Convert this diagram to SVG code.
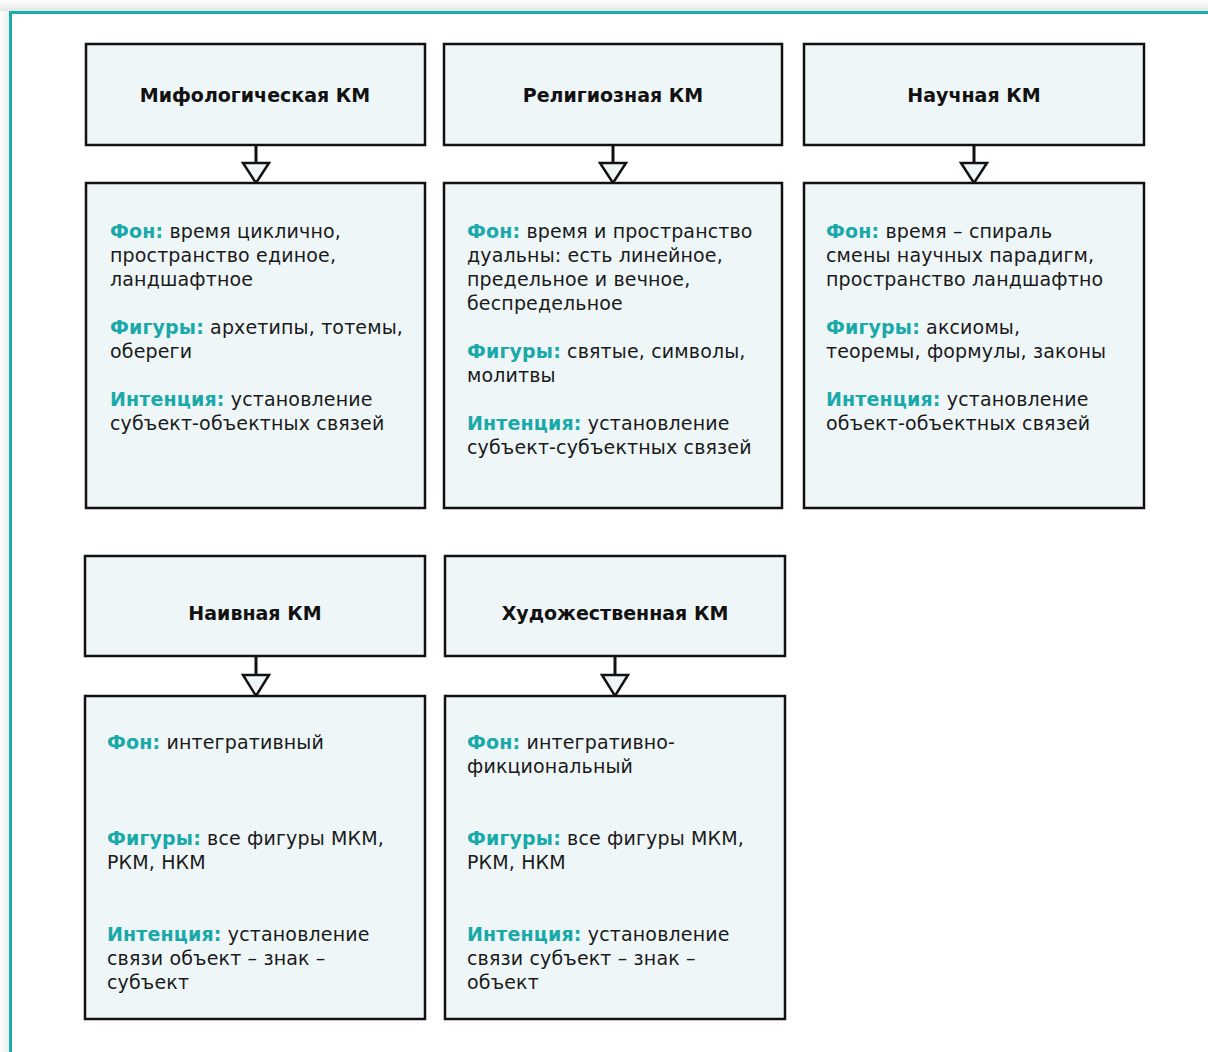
<svg xmlns="http://www.w3.org/2000/svg" width="1208" height="1052" viewBox="0 0 1208 1052">
<style>
.box{fill:#eef6f8;stroke:#111;stroke-width:2.5}
.h{font-family:"DejaVu Sans",sans-serif;font-weight:bold;font-size:19px;fill:#111;text-anchor:middle}
.t{font-family:"DejaVu Sans",sans-serif;font-size:19px;letter-spacing:0.15px;fill:#1a1a1a}
.k{font-weight:bold;fill:#1aa9a9}
.c{stroke:#111;stroke-width:3;fill:none}
.ah{fill:#eef6f8;stroke:#111;stroke-width:2.5;stroke-linejoin:miter}
</style>
<defs>
<linearGradient id="gt" x1="0" y1="0" x2="0" y2="1"><stop offset="0" stop-color="#ffffff"/><stop offset="1" stop-color="#e6e6e6"/></linearGradient>
<linearGradient id="gl" x1="0" y1="0" x2="1" y2="0"><stop offset="0" stop-color="#ffffff"/><stop offset="1" stop-color="#ececec"/></linearGradient>
</defs>
<rect width="1208" height="1052" fill="#ffffff"/>
<rect x="0" y="0" width="1208" height="11" fill="url(#gt)"/>
<rect x="0" y="11" width="9" height="1041" fill="url(#gl)"/>
<path d="M10.5 1052 V12.5 H1208" fill="none" stroke="#17aeaa" stroke-width="3"/>

<g id="connectors">
<path class="c" d="M256 145 V166"/>
<polygon class="ah" points="243,163 269,163 256,183"/>
<path class="c" d="M613 145 V166"/>
<polygon class="ah" points="600,163 626,163 613,183"/>
<path class="c" d="M974 145 V166"/>
<polygon class="ah" points="961,163 987,163 974,183"/>
<path class="c" d="M256 656 V678"/>
<polygon class="ah" points="243,675 269,675 256,696"/>
<path class="c" d="M615 656 V678"/>
<polygon class="ah" points="602,675 628,675 615,696"/>
</g>

<g id="n1h"><rect class="box" x="86" y="44" width="339" height="101"/><text class="h" x="255" y="102">Мифологическая КМ</text></g>
<g id="n2h"><rect class="box" x="444" y="44" width="338" height="101"/><text class="h" x="613" y="102">Религиозная КМ</text></g>
<g id="n3h"><rect class="box" x="804" y="44" width="340" height="101"/><text class="h" x="974" y="102">Научная КМ</text></g>
<g id="n4h"><rect class="box" x="85" y="556" width="340" height="100"/><text class="h" x="255" y="620">Наивная КМ</text></g>
<g id="n5h"><rect class="box" x="445" y="556" width="340" height="100"/><text class="h" x="615" y="620">Художественная КМ</text></g>

<g id="n1">
<rect class="box" x="86" y="183" width="339" height="325"/>
<text class="t" x="110" y="238"><tspan class="k">Фон:</tspan> время циклично,</text>
<text class="t" x="110" y="262">пространство единое,</text>
<text class="t" x="110" y="286">ландшафтное</text>
<text class="t" x="110" y="334"><tspan class="k">Фигуры:</tspan> архетипы, тотемы,</text>
<text class="t" x="110" y="358">обереги</text>
<text class="t" x="110" y="406"><tspan class="k">Интенция:</tspan> установление</text>
<text class="t" x="110" y="430">субъект-объектных связей</text>
</g>
<g id="n2">
<rect class="box" x="444" y="183" width="338" height="325"/>
<text class="t" x="467" y="238"><tspan class="k">Фон:</tspan> время и пространство</text>
<text class="t" x="467" y="262">дуальны: есть линейное,</text>
<text class="t" x="467" y="286">предельное и вечное,</text>
<text class="t" x="467" y="310">беспредельное</text>
<text class="t" x="467" y="358"><tspan class="k">Фигуры:</tspan> святые, символы,</text>
<text class="t" x="467" y="382">молитвы</text>
<text class="t" x="467" y="430"><tspan class="k">Интенция:</tspan> установление</text>
<text class="t" x="467" y="454">субъект-субъектных связей</text>
</g>
<g id="n3">
<rect class="box" x="804" y="183" width="340" height="325"/>
<text class="t" x="826" y="238"><tspan class="k">Фон:</tspan> время – спираль</text>
<text class="t" x="826" y="262">смены научных парадигм,</text>
<text class="t" x="826" y="286">пространство ландшафтно</text>
<text class="t" x="826" y="334"><tspan class="k">Фигуры:</tspan> аксиомы,</text>
<text class="t" x="826" y="358">теоремы, формулы, законы</text>
<text class="t" x="826" y="406"><tspan class="k">Интенция:</tspan> установление</text>
<text class="t" x="826" y="430">объект-объектных связей</text>
</g>
<g id="n4">
<rect class="box" x="85" y="696" width="340" height="323"/>
<text class="t" x="107" y="749"><tspan class="k">Фон:</tspan> интегративный</text>
<text class="t" x="107" y="845"><tspan class="k">Фигуры:</tspan> все фигуры МКМ,</text>
<text class="t" x="107" y="869">РКМ, НКМ</text>
<text class="t" x="107" y="941"><tspan class="k">Интенция:</tspan> установление</text>
<text class="t" x="107" y="965">связи объект – знак –</text>
<text class="t" x="107" y="989">субъект</text>
</g>
<g id="n5">
<rect class="box" x="445" y="696" width="340" height="323"/>
<text class="t" x="467" y="749"><tspan class="k">Фон:</tspan> интегративно-</text>
<text class="t" x="467" y="773">фикциональный</text>
<text class="t" x="467" y="845"><tspan class="k">Фигуры:</tspan> все фигуры МКМ,</text>
<text class="t" x="467" y="869">РКМ, НКМ</text>
<text class="t" x="467" y="941"><tspan class="k">Интенция:</tspan> установление</text>
<text class="t" x="467" y="965">связи субъект – знак –</text>
<text class="t" x="467" y="989">объект</text>
</g>
</svg>
